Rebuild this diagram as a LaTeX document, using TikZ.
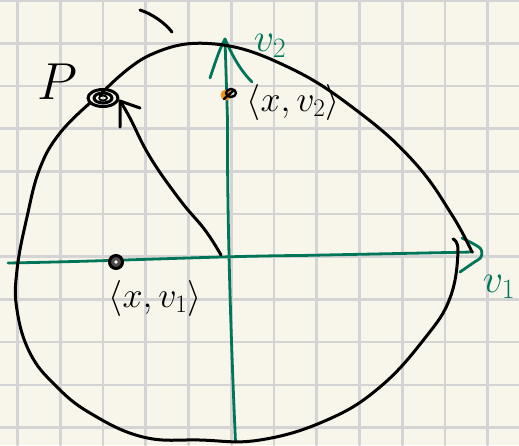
\RequirePackage{fix-cm}
\documentclass[tikz,border=0pt]{standalone}
\usepackage{tikz}
\usetikzlibrary{shapes.geometric}
\definecolor{paper}{RGB}{248,246,235}
\definecolor{gridc}{RGB}{212,212,212}
\definecolor{axisg}{RGB}{0,117,88}
\definecolor{dotor}{RGB}{240,150,30}
\begin{document}
\begin{tikzpicture}[x=1pt,y=-1pt, line cap=round, line join=round,
  ink/.style={black, line width=3pt},
  axisline/.style={axisg, line width=2.8pt},
  gridline/.style={gridc, line width=2.6pt},
  lab/.style={inner sep=0pt, font=\fontsize{36}{36}\selectfont},
  glab/.style={inner sep=0pt, text=axisg, font=\fontsize{40}{40}\selectfont}]
\fill[paper] (0,0) rectangle (519,445);
\useasboundingbox (0,0) rectangle (519,445);
% grid
\foreach \x in {17.5,60.25,103,145.75,188.5,231.25,274,316.75,359.5,402.25,445,487.75}
  \draw[gridline] (\x,0) -- (\x,445);
\foreach \y in {0.5,43.2,85.9,128.6,171.3,214,256.7,299.4,342.1,384.8,427.5}
  \draw[gridline] (0,\y) -- (519,\y);
% coordinates
\coordinate (hstart) at (8,263);
\coordinate (hend) at (473,252);
\coordinate (vstart) at (235.5,442);
\coordinate (vend) at (225,39);
\coordinate (origin) at (221,255);
% axes
\draw[axisline] (hstart) .. controls (120,261) and (220,256) .. (300,255.5) -- (hend);
\draw[axisline] plot[smooth] coordinates {(462,238) (480,248) (481,257) (473,263) (460,272)};
\draw[axisline] (vstart) .. controls (230,320) and (227,200) .. (227.5,120) -- (vend);
\draw[axisline] (210,78) .. controls (216,60) and (220,48) .. (vend) .. controls (232,55) and (240,70) .. (252,82);
% big closed curve
\draw[ink] plot[smooth, tension=0.7] coordinates {(100,95) (150,55) (215,44) (290,68) (360,113) (415,163) (452,215) (472,252)};
\draw[ink] plot[smooth, tension=0.7] coordinates {(453,239) (458,252) (450,298) (425,338) (380,387) (327,420) (260,440) (200,440) (143,437) (90,413) (55,385) (30,353) (17,310) (17,270) (27,217) (40,168) (60,133) (90,103)};
% short stroke at top
\draw[ink] (140,10) .. controls (152,14) and (164,22) .. (172,32);
% arrow from origin to P
\coordinate (ptip) at (120,101);
\draw[ink] plot[smooth, tension=0.7] coordinates {(origin) (205,230) (180,200) (150,157) (130,118) (ptip)};
\draw[ink] (120,127) -- (ptip) -- (140,108);
% point P
\node[ink, draw, ellipse, minimum width=30pt, minimum height=17pt, inner sep=0pt] (P) at (103,98) {};
\draw[ink] (P.center) ellipse [x radius=9, y radius=5];
\draw[black, line width=1.8pt] (P.center) ellipse [x radius=4, y radius=2.5];
\node[inner sep=0pt, font=\fontsize{52}{52}\selectfont] (Plab) at (57,82) {$P$};
% point (x,v1)
\node[draw, circle, line width=3pt, fill=black!70, minimum size=13pt, inner sep=0pt] (d1) at (116,262) {};
\fill[paper!70!white] (d1.center) circle (1.8);
\node[lab] (l1) at (155,298) {$\langle x, v_1\rangle$};
% point (x,v2)
\node[circle, fill=dotor, minimum size=11pt, inner sep=0pt] (d2) at (226,95) {};
\draw[black, line width=2.4pt] (231,93) ellipse [x radius=5, y radius=4];
\draw[black, line width=2.4pt] (224,99) -- (234,90);
\node[lab] (l2) at (293,102) {$\langle x, v_2\rangle$};
% axis labels
\node[glab] (v2lab) at (270,46) {$v_2$};
\node[glab] (v1lab) at (499,287) {$v_1$};
\end{tikzpicture}
\end{document}
